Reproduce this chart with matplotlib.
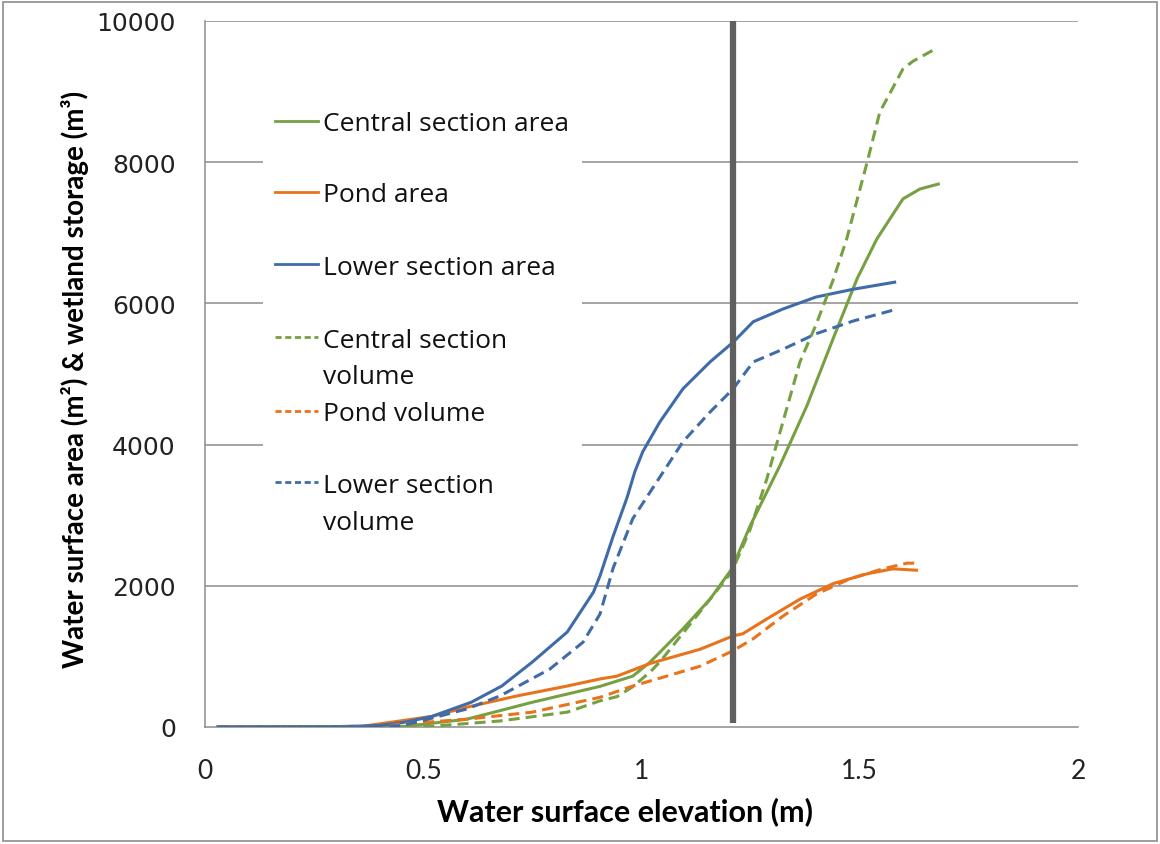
import matplotlib
matplotlib.use("Agg")
import matplotlib.pyplot as plt
from matplotlib.patches import Rectangle

# elevation (m) vs. area (m2) / storage (m3) for each wetland section
central_area_x = [0.03, 0.40, 0.46, 0.60, 0.75, 0.905, 0.98, 1.02, 1.095, 1.157, 1.207, 1.249,
                  1.317, 1.379, 1.439, 1.494, 1.539, 1.599, 1.638, 1.68]
central_area_y = [0, 0, 10, 110, 350, 575, 720, 920, 1390, 1810, 2240, 2850,
                  3700, 4550, 5500, 6350, 6910, 7480, 7620, 7690]

pond_area_x = [0.03, 0.35, 0.447, 0.52, 0.60, 0.715, 0.83, 0.905, 0.944, 1.02, 1.134, 1.21,
               1.232, 1.287, 1.363, 1.439, 1.517, 1.576, 1.63]
pond_area_y = [0, 0, 85, 150, 280, 440, 580, 680, 720, 900, 1100, 1290,
               1320, 1530, 1810, 2030, 2170, 2240, 2220]

lower_area_x = [0.03, 0.30, 0.40, 0.46, 0.52, 0.61, 0.68, 0.75, 0.83, 0.89, 0.905, 0.935,
                0.967, 0.985, 1.003, 1.042, 1.095, 1.157, 1.21, 1.256, 1.324, 1.40, 1.485, 1.58]
lower_area_y = [0, 5, 20, 70, 150, 350, 580, 920, 1345, 1910, 2140, 2700,
                3250, 3620, 3900, 4320, 4790, 5170, 5450, 5740, 5920, 6090, 6200, 6300]

central_vol_x = [0.03, 0.45, 0.52, 0.676, 0.83, 0.905, 0.944, 0.98, 1.02, 1.042, 1.134, 1.207,
                 1.249, 1.287, 1.324, 1.363, 1.40, 1.439, 1.47, 1.517, 1.546, 1.599, 1.622, 1.672]
central_vol_y = [0, 0, 10, 85, 210, 370, 430, 570, 780, 920, 1630, 2200,
                 2800, 3510, 4320, 5170, 5700, 6330, 6910, 8000, 8710, 9320, 9430, 9600]

pond_vol_x = [0.03, 0.40, 0.447, 0.60, 0.75, 0.905, 0.98, 1.058, 1.134, 1.21, 1.256, 1.324,
              1.40, 1.478, 1.553, 1.608, 1.63]
pond_vol_y = [0, 0, 40, 110, 210, 420, 580, 720, 860, 1080, 1250, 1570,
              1880, 2100, 2240, 2320, 2320]

lower_vol_x = [0.03, 0.35, 0.45, 0.486, 0.60, 0.676, 0.79, 0.866, 0.905, 0.935, 0.98, 1.02,
               1.095, 1.157, 1.21, 1.256, 1.324, 1.40, 1.485, 1.58]
lower_vol_y = [0, 0, 20, 70, 255, 440, 820, 1200, 1600, 2250, 2950, 3330,
               4040, 4460, 4790, 5170, 5350, 5570, 5750, 5910]

# design water level marker
marker_x = [1.21, 1.21]
marker_y = [50, 10000]

x_ticks = [0, 0.5, 1, 1.5, 2]
x_tick_labels = ["0", "0.5", "1", "1.5", "2"]
y_ticks = [0, 2000, 4000, 6000, 8000, 10000]

GREEN = "#77A042"
ORANGE = "#E8731A"
BLUE = "#3F6CA8"
GRID = "#8C8C8C"
FONT = ["Lato", "DejaVu Sans"]

series = [
    ("Central section area", central_area_x, central_area_y, GREEN, "-"),
    ("Pond area", pond_area_x, pond_area_y, ORANGE, "-"),
    ("Lower section area", lower_area_x, lower_area_y, BLUE, "-"),
    ("Central section\nvolume", central_vol_x, central_vol_y, GREEN, "--"),
    ("Pond volume", pond_vol_x, pond_vol_y, ORANGE, "--"),
    ("Lower section\nvolume", lower_vol_x, lower_vol_y, BLUE, "--"),
]

fig = plt.figure(figsize=(11.6, 8.45), dpi=100)
fig.patches.append(Rectangle((0.003, 0.004), 0.994, 0.992, transform=fig.transFigure,
                             fill=False, edgecolor="#8C8C8C", linewidth=1.2))
ax = fig.add_axes([0.1767, 0.1385, 0.7526, 0.8355])

for y in y_ticks[1:]:
    ax.axhline(y, color=GRID, linewidth=1.1, zorder=1)

for label, xs, ys, color, ls in series:
    if ls == "--":
        ax.plot(xs, ys, color=color, linewidth=2.2, linestyle=(0, (3.6, 2.0)), zorder=3)
    else:
        ax.plot(xs, ys, color=color, linewidth=2.2, zorder=3)

ax.plot(marker_x, marker_y, color="#5F5F5F", linewidth=4.5, zorder=5, solid_capstyle="butt")

ax.set_xlim(0, 2)
ax.set_ylim(0, 10000)
ax.set_xticks(x_ticks)
ax.set_xticklabels(x_tick_labels, fontsize=19, family=FONT)
ax.set_yticks(y_ticks)
ax.set_yticklabels([str(v) for v in y_ticks], fontsize=18, family="DejaVu Sans")
ax.tick_params(length=0, colors="#222222")
ax.tick_params(axis="y", pad=21)
ax.tick_params(axis="x", pad=22)

for side in ("top", "right"):
    ax.spines[side].set_visible(False)
for side in ("left", "bottom"):
    ax.spines[side].set_color(GRID)
    ax.spines[side].set_linewidth(1.1)

ax.set_xlabel("Water surface elevation (m)", fontsize=22, fontweight="bold", family=FONT)
ax.set_ylabel("Water surface area (m²) & wetland storage (m³)", fontsize=20,
              fontweight="bold", family=FONT)
ax.xaxis.set_label_coords(0.481, -0.098)
ax.yaxis.set_label_coords(-0.133, 0.493)

# legend panel drawn in data space so its entries line up with the gridlines
ax.add_patch(Rectangle((0.133, 2592), 0.731, 6374, facecolor="white", edgecolor="none", zorder=2))
legend_rows = [8584, 7578, 6558, 5524, 4476, 3470]
line_step = 524  # one text line, in data units
for (label, _, _, color, ls), yrow in zip(series, legend_rows):
    if ls == "--":
        ax.plot([0.16, 0.259], [yrow, yrow], color=color, linewidth=2.0,
                linestyle=(0, (2.2, 1.3)), zorder=4)
    else:
        ax.plot([0.16, 0.259], [yrow, yrow], color=color, linewidth=2.0, zorder=4)
    for i, part in enumerate(label.split("\n")):
        ax.text(0.27, yrow - 135 - i * line_step, part, fontsize=19, family="Open Sans",
                va="baseline", ha="left", color="#111111", zorder=4)

fig.savefig("out.png", dpi=100)
